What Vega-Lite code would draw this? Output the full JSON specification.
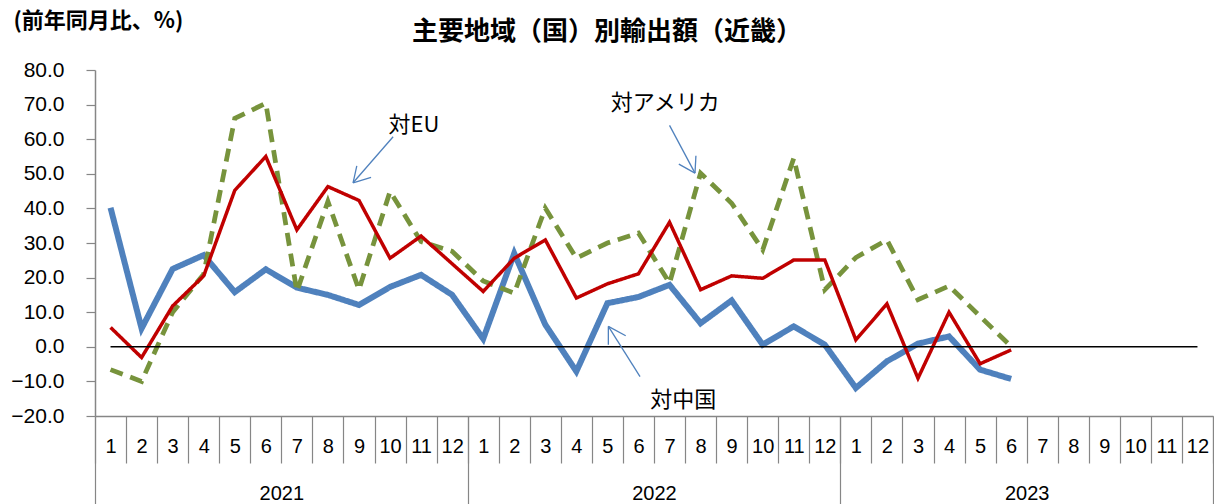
{
  "$schema": "https://vega.github.io/schema/vega-lite/v6.json",
  "autosize": "none",
  "width": 1118,
  "height": 346,
  "padding": {"left": 95, "top": 70, "right": 1, "bottom": 88},
  "background": "white",
  "config": {"view": {"stroke": null}},
  "title": {
    "text": "主要地域（国）別輸出額（近畿）",
    "font": "Noto Sans CJK JP",
    "fontSize": 26,
    "fontWeight": "bold",
    "color": "#000000",
    "anchor": "middle",
    "frame": "group",
    "baseline": "middle",
    "dx": -47,
    "dy": 49,
    "offset": 0
  },
  "datasets": {
    "series": [
      {"t": 1, "s": "対中国", "v": 40.2}, {"t": 2, "s": "対中国", "v": 5.3}, {"t": 3, "s": "対中国", "v": 22.5}, {"t": 4, "s": "対中国", "v": 26.5},
      {"t": 5, "s": "対中国", "v": 15.8}, {"t": 6, "s": "対中国", "v": 22.4}, {"t": 7, "s": "対中国", "v": 17.1}, {"t": 8, "s": "対中国", "v": 15.0},
      {"t": 9, "s": "対中国", "v": 12.1}, {"t": 10, "s": "対中国", "v": 17.3}, {"t": 11, "s": "対中国", "v": 20.8}, {"t": 12, "s": "対中国", "v": 15.0},
      {"t": 13, "s": "対中国", "v": 2.3}, {"t": 14, "s": "対中国", "v": 27.0}, {"t": 15, "s": "対中国", "v": 6.4}, {"t": 16, "s": "対中国", "v": -7.1},
      {"t": 17, "s": "対中国", "v": 12.6}, {"t": 18, "s": "対中国", "v": 14.4}, {"t": 19, "s": "対中国", "v": 17.9}, {"t": 20, "s": "対中国", "v": 6.8},
      {"t": 21, "s": "対中国", "v": 13.4}, {"t": 22, "s": "対中国", "v": 0.6}, {"t": 23, "s": "対中国", "v": 5.9}, {"t": 24, "s": "対中国", "v": 0.6},
      {"t": 25, "s": "対中国", "v": -11.9}, {"t": 26, "s": "対中国", "v": -4.2}, {"t": 27, "s": "対中国", "v": 0.9}, {"t": 28, "s": "対中国", "v": 3.0},
      {"t": 29, "s": "対中国", "v": -6.6}, {"t": 30, "s": "対中国", "v": -9.3},
      {"t": 1, "s": "対アメリカ", "v": -6.6}, {"t": 2, "s": "対アメリカ", "v": -10.0}, {"t": 3, "s": "対アメリカ", "v": 10.0}, {"t": 4, "s": "対アメリカ", "v": 21.0},
      {"t": 5, "s": "対アメリカ", "v": 66.0}, {"t": 6, "s": "対アメリカ", "v": 70.4}, {"t": 7, "s": "対アメリカ", "v": 16.0}, {"t": 8, "s": "対アメリカ", "v": 42.0},
      {"t": 9, "s": "対アメリカ", "v": 16.5}, {"t": 10, "s": "対アメリカ", "v": 44.9}, {"t": 11, "s": "対アメリカ", "v": 30.4}, {"t": 12, "s": "対アメリカ", "v": 27.6},
      {"t": 13, "s": "対アメリカ", "v": 19.0}, {"t": 14, "s": "対アメリカ", "v": 15.5}, {"t": 15, "s": "対アメリカ", "v": 40.1}, {"t": 16, "s": "対アメリカ", "v": 25.6},
      {"t": 17, "s": "対アメリカ", "v": 30.0}, {"t": 18, "s": "対アメリカ", "v": 32.9}, {"t": 19, "s": "対アメリカ", "v": 18.4}, {"t": 20, "s": "対アメリカ", "v": 50.2},
      {"t": 21, "s": "対アメリカ", "v": 41.5}, {"t": 22, "s": "対アメリカ", "v": 28.0}, {"t": 23, "s": "対アメリカ", "v": 54.5}, {"t": 24, "s": "対アメリカ", "v": 16.5},
      {"t": 25, "s": "対アメリカ", "v": 25.8}, {"t": 26, "s": "対アメリカ", "v": 30.9}, {"t": 27, "s": "対アメリカ", "v": 13.6}, {"t": 28, "s": "対アメリカ", "v": 17.6},
      {"t": 29, "s": "対アメリカ", "v": 8.8}, {"t": 30, "s": "対アメリカ", "v": 0.1},
      {"t": 1, "s": "対EU", "v": 5.6}, {"t": 2, "s": "対EU", "v": -3.1}, {"t": 3, "s": "対EU", "v": 11.8}, {"t": 4, "s": "対EU", "v": 20.5},
      {"t": 5, "s": "対EU", "v": 45.2}, {"t": 6, "s": "対EU", "v": 55.0}, {"t": 7, "s": "対EU", "v": 33.8}, {"t": 8, "s": "対EU", "v": 46.3},
      {"t": 9, "s": "対EU", "v": 42.3}, {"t": 10, "s": "対EU", "v": 25.6}, {"t": 11, "s": "対EU", "v": 32.0}, {"t": 12, "s": "対EU", "v": 24.0},
      {"t": 13, "s": "対EU", "v": 16.0}, {"t": 14, "s": "対EU", "v": 25.6}, {"t": 15, "s": "対EU", "v": 30.9}, {"t": 16, "s": "対EU", "v": 14.1},
      {"t": 17, "s": "対EU", "v": 18.2}, {"t": 18, "s": "対EU", "v": 21.1}, {"t": 19, "s": "対EU", "v": 36.0}, {"t": 20, "s": "対EU", "v": 16.5},
      {"t": 21, "s": "対EU", "v": 20.5}, {"t": 22, "s": "対EU", "v": 19.8}, {"t": 23, "s": "対EU", "v": 25.1}, {"t": 24, "s": "対EU", "v": 25.1},
      {"t": 25, "s": "対EU", "v": 2.0}, {"t": 26, "s": "対EU", "v": 12.4}, {"t": 27, "s": "対EU", "v": -9.1}, {"t": 28, "s": "対EU", "v": 10.0},
      {"t": 29, "s": "対EU", "v": -4.9}, {"t": 30, "s": "対EU", "v": -0.9}
    ],
    "zero": [
      {"x": 1, "x2": 36, "y": 0}
    ],
    "arrows": [
      {"a": "EU", "x": 10.10, "y": 60.7, "x2": 8.81, "y2": 47.4},
      {"a": "EU", "x": 8.81, "y": 47.4, "x2": 8.93, "y2": 52.3},
      {"a": "EU", "x": 8.81, "y": 47.4, "x2": 9.39, "y2": 49.0},
      {"a": "US", "x": 19.00, "y": 64.0, "x2": 19.82, "y2": 50.2},
      {"a": "US", "x": 19.82, "y": 50.2, "x2": 19.85, "y2": 55.2},
      {"a": "US", "x": 19.82, "y": 50.2, "x2": 19.30, "y2": 52.8},
      {"a": "CN", "x": 18.05, "y": -8.6, "x2": 17.03, "y2": 5.9},
      {"a": "CN", "x": 17.03, "y": 5.9, "x2": 17.03, "y2": 0.6},
      {"a": "CN", "x": 17.03, "y": 5.9, "x2": 17.59, "y2": 3.2}
    ],
    "labels": [
      {"label": "対EU", "x": 10.77, "y": 64.2},
      {"label": "対アメリカ", "x": 18.86, "y": 70.5},
      {"label": "対中国", "x": 19.44, "y": -15.3}
    ]
  },
  "resolve": {"axis": {"x": "independent", "y": "independent"}},
  "layer": [
    {
      "data": {"name": "series"},
      "mark": {"type": "line", "strokeCap": "butt", "strokeJoin": "miter"},
      "encoding": {
        "x": {
          "field": "t", "type": "quantitative",
          "scale": {"domain": [0.5, 36.5], "nice": false, "zero": false},
          "axis": {
            "orient": "bottom",
            "title": null,
            "values": [1,2,3,4,5,6,7,8,9,10,11,12,13,14,15,16,17,18,19,20,21,22,23,24,25,26,27,28,29,30,31,32,33,34,35,36],
            "labelExpr": "(datum.value - 1) % 12 + 1",
            "ticks": false,
            "domain": false,
            "grid": false,
            "labelFont": "Liberation Sans",
            "labelFontSize": 20,
            "labelColor": "#000000",
            "labelBaseline": "middle",
            "labelPadding": 30,
            "labelOverlap": false,
            "labelFlush": false,
            "labelBound": false
          }
        },
        "y": {
          "field": "v", "type": "quantitative",
          "scale": {"domain": [-20, 80], "nice": false, "zero": false},
          "axis": null
        },
        "color": {
          "field": "s", "type": "nominal",
          "scale": {"domain": ["対中国", "対アメリカ", "対EU"], "range": ["#4F81BD", "#77933C", "#C00000"]},
          "legend": null
        },
        "strokeWidth": {
          "field": "s", "type": "nominal",
          "scale": {"domain": ["対中国", "対アメリカ", "対EU"], "range": [6, 3.5, 3]},
          "legend": null
        },
        "strokeDash": {
          "field": "s", "type": "nominal",
          "scale": {"domain": ["対中国", "対アメリカ", "対EU"], "range": [[1, 0], [13, 8], [1, 0]]},
          "legend": null
        },
        "order": {"field": "t", "type": "quantitative"}
      }
    },
    {
      "data": {"name": "zero"},
      "mark": {"type": "rule", "color": "#000000", "strokeWidth": 1.5},
      "encoding": {
        "x": {
          "field": "x", "type": "quantitative",
          "axis": {
            "orient": "bottom",
            "title": null,
            "values": [0.5,1.5,2.5,3.5,4.5,5.5,6.5,7.5,8.5,9.5,10.5,11.5,12.5,13.5,14.5,15.5,16.5,17.5,18.5,19.5,20.5,21.5,22.5,23.5,24.5,25.5,26.5,27.5,28.5,29.5,30.5,31.5,32.5,33.5,34.5,35.5,36.5],
            "labels": false,
            "grid": false,
            "domain": true,
            "domainColor": "#868686",
            "domainWidth": 1.5,
            "tickColor": "#868686",
            "tickWidth": 1.2,
            "tickSize": 47
          }
        },
        "x2": {"field": "x2"},
        "y": {
          "field": "y", "type": "quantitative",
          "axis": {
            "orient": "left",
            "title": "(前年同月比、%)",
            "titleAngle": 0,
            "titleAlign": "left",
            "titleBaseline": "middle",
            "titleX": -82,
            "titleY": -50,
            "titleFont": "Noto Sans CJK JP",
            "titleFontSize": 22,
            "titleFontWeight": "bold",
            "titleColor": "#000000",
            "values": [-20, -10, 0, 10, 20, 30, 40, 50, 60, 70, 80],
            "format": ".1f",
            "grid": false,
            "domain": true,
            "domainColor": "#868686",
            "domainWidth": 1.5,
            "ticks": true,
            "tickColor": "#868686",
            "tickWidth": 1.2,
            "tickSize": 9,
            "labels": true,
            "labelFont": "Liberation Sans",
            "labelFontSize": 21,
            "labelColor": "#000000",
            "labelPadding": 22,
            "labelOverlap": false,
            "labelFlush": false,
            "labelBound": false
          }
        }
      }
    },
    {
      "data": {"name": "arrows"},
      "mark": {"type": "rule", "color": "#4F81BD", "strokeWidth": 1.3},
      "encoding": {
        "x": {
          "field": "x", "type": "quantitative",
          "axis": {
            "orient": "bottom",
            "title": null,
            "values": [0.5, 12.5, 24.5, 36.5],
            "labels": false,
            "grid": false,
            "domain": false,
            "tickColor": "#868686",
            "tickWidth": 1.2,
            "tickSize": 90
          }
        },
        "x2": {"field": "x2"},
        "y": {"field": "y", "type": "quantitative", "axis": null},
        "y2": {"field": "y2"}
      }
    },
    {
      "data": {"name": "labels"},
      "mark": {"type": "text", "font": "Noto Sans CJK JP", "fontSize": 22, "color": "#000000", "baseline": "middle", "align": "center"},
      "encoding": {
        "x": {
          "field": "x", "type": "quantitative",
          "axis": {
            "orient": "bottom",
            "title": null,
            "values": [6.5, 18.5, 30.5],
            "labelExpr": "datum.value < 12 ? '2021' : datum.value < 24 ? '2022' : '2023'",
            "ticks": false,
            "domain": false,
            "grid": false,
            "labelFont": "Liberation Sans",
            "labelFontSize": 20,
            "labelColor": "#000000",
            "labelBaseline": "middle",
            "labelPadding": 77,
            "labelOverlap": false,
            "labelFlush": false,
            "labelBound": false
          }
        },
        "y": {"field": "y", "type": "quantitative", "axis": null},
        "text": {"field": "label"}
      }
    }
  ]
}
